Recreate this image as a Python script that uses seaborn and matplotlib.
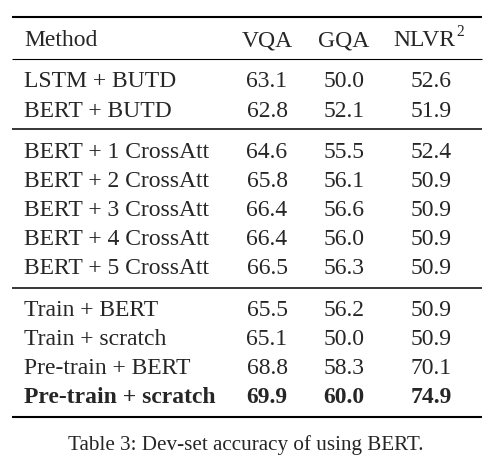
import matplotlib
matplotlib.use('Agg')
import matplotlib.pyplot as plt
import seaborn as sns

# table contents
methods = ['LSTM + BUTD', 'BERT + BUTD',
           'BERT + 1 CrossAtt', 'BERT + 2 CrossAtt', 'BERT + 3 CrossAtt',
           'BERT + 4 CrossAtt', 'BERT + 5 CrossAtt',
           'Train + BERT', 'Train + scratch', 'Pre-train + BERT', 'Pre-train + scratch']
vqa = [63.1, 62.8, 64.6, 65.8, 66.4, 66.4, 66.5, 65.5, 65.1, 68.8, 69.9]
gqa = [50.0, 52.1, 55.5, 56.1, 56.6, 56.0, 56.3, 56.2, 50.0, 58.3, 60.0]
nlvr = [52.6, 51.9, 52.4, 50.9, 50.9, 50.9, 50.9, 50.9, 50.9, 70.1, 74.9]
columns = ['Method', 'VQA', 'GQA', 'NLVR']
caption = 'Table 3: Dev-set accuracy of using BERT.'

sns.set_style('white')
plt.rcParams['font.family'] = ['Liberation Serif', 'DejaVu Serif']

fig = plt.figure(figsize=(4.88, 4.63), dpi=100)
ax = fig.add_axes([0, 0, 1, 1])
ax.set_xlim(0, 488)
ax.set_ylim(463, 0)
ax.axis('off')

fs = 17.0
col_x = [24, 267, 344, 431]
baselines = [87, 117, 158, 187, 216, 245, 274, 316, 345, 374, 403]

# rules
x0, x1 = 12, 482
ax.hlines([17, 417], x0, x1, color='black', lw=1.5)
ax.hlines([59], x0, x1, color='black', lw=0.8)
ax.hlines([129, 288], x0, x1, color='black', lw=1.1)

# header
ax.text(col_x[0], 46, columns[0], fontsize=fs, ha='left', va='baseline')
ax.text(col_x[1], 46, columns[1], fontsize=fs, ha='center', va='baseline')
ax.text(col_x[2], 46, columns[2], fontsize=fs, ha='center', va='baseline')
ax.text(455, 46, columns[3], fontsize=fs, ha='right', va='baseline')
ax.text(456, 36, '2', fontsize=fs * 0.66, ha='left', va='baseline')

# rows
for i, m in enumerate(methods):
    w = 'bold' if i == len(methods) - 1 else 'normal'
    y = baselines[i]
    ax.text(col_x[0], y, m, fontsize=fs, ha='left', va='baseline', fontweight=w)
    ax.text(col_x[1], y, f'{vqa[i]:.1f}', fontsize=fs, ha='center', va='baseline', fontweight=w)
    ax.text(col_x[2], y, f'{gqa[i]:.1f}', fontsize=fs, ha='center', va='baseline', fontweight=w)
    ax.text(col_x[3], y, f'{nlvr[i]:.1f}', fontsize=fs, ha='center', va='baseline', fontweight=w)

ax.text(246, 450, caption, fontsize=15.2, ha='center', va='baseline')

fig.savefig('out.png', dpi=100)
